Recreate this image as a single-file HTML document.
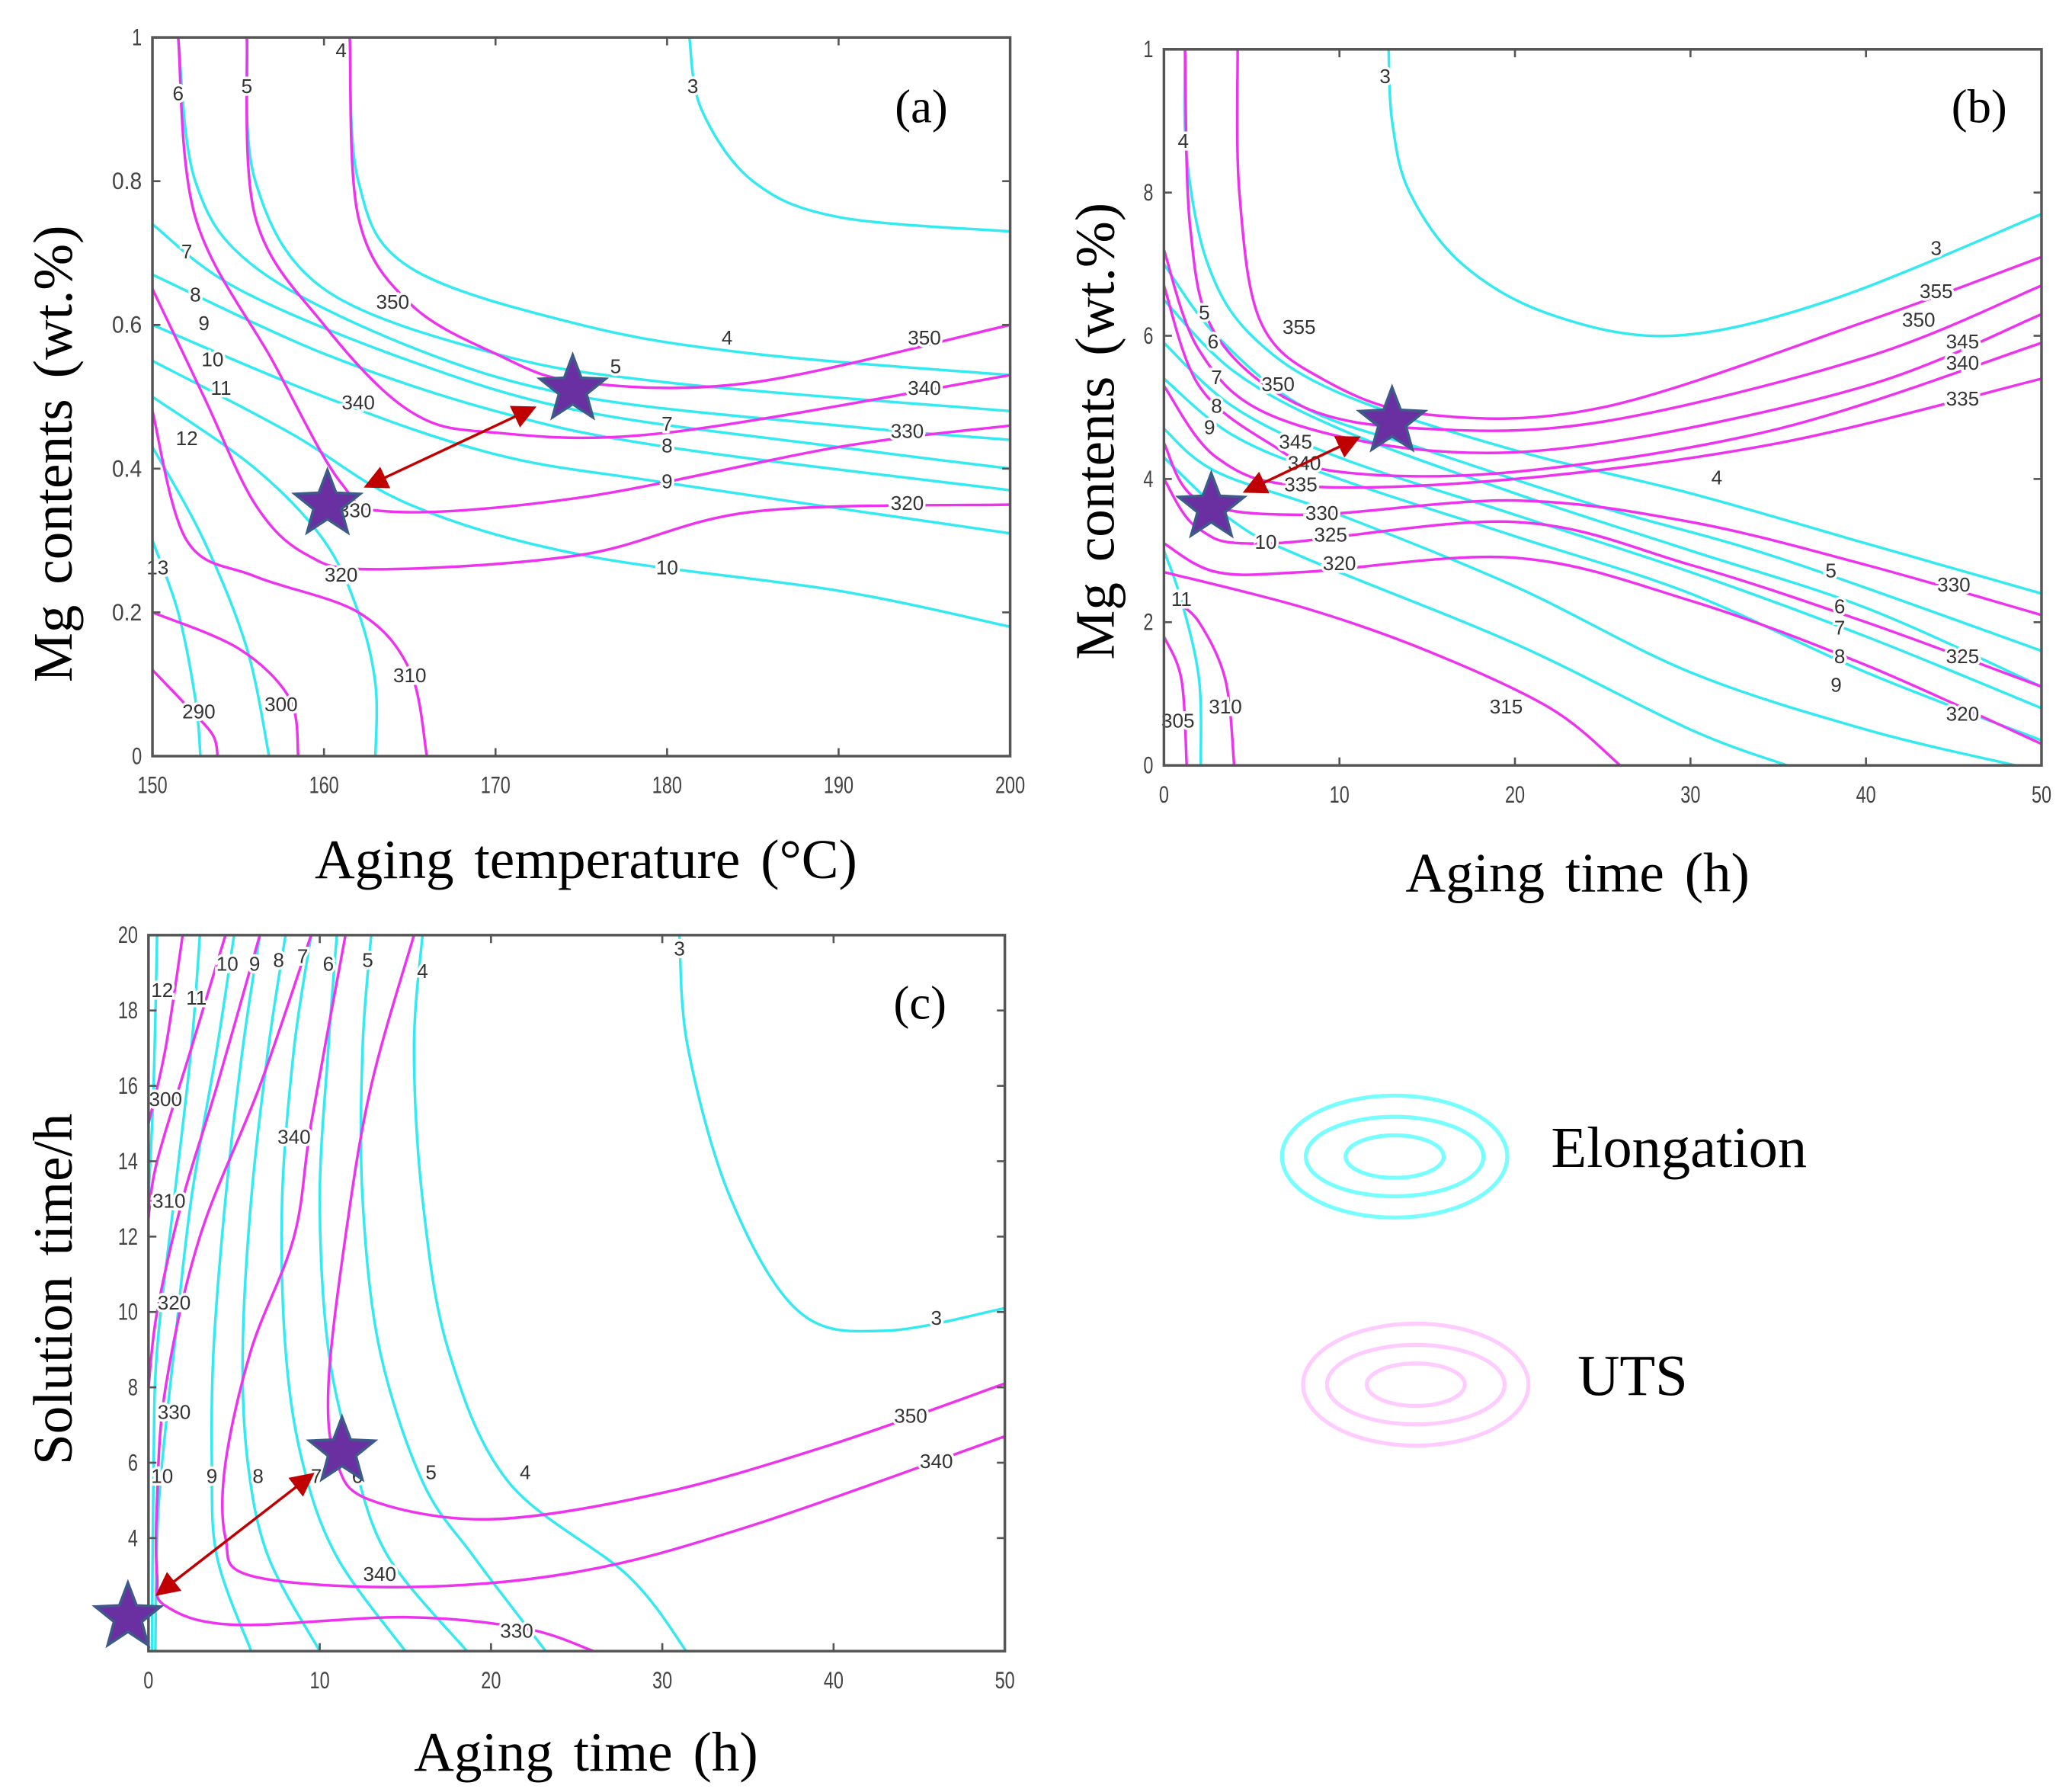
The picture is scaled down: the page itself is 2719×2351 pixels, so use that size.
<!DOCTYPE html>
<html><head><meta charset="utf-8">
<style>
html,body{margin:0;padding:0;background:#fff;}
svg{display:block;}
.tick{font-family:"Liberation Sans",sans-serif;font-size:18px;fill:#444;}
.lab{font-family:"Liberation Serif",serif;font-size:42px;fill:#000;}
.cl{font-family:"Liberation Sans",sans-serif;font-size:15px;fill:#333;stroke:#fff;stroke-width:4px;paint-order:stroke;}
</style></head>
<body>
<svg id="fig" width="2719" height="2351" viewBox="0 0 1563 1351" xmlns="http://www.w3.org/2000/svg">
<defs>
<clipPath id="clipA"><rect x="115" y="28" width="647" height="542"/></clipPath>
<clipPath id="clipB"><rect x="878" y="37" width="662" height="540"/></clipPath>
<clipPath id="clipC"><rect x="112" y="705" width="646" height="540"/></clipPath>
<marker id="ah" viewBox="0 0 10 10" refX="9" refY="5" markerWidth="9" markerHeight="9" orient="auto-start-reverse"><path d="M0,0 L10,5 L0,10 z" fill="#c00000"/></marker>
</defs>
<g id="root"></g>
<g>
<g fill="none" stroke="#7ff" stroke-width="3">
<ellipse cx="1052" cy="872" rx="85" ry="46"/><ellipse cx="1052" cy="872" rx="67" ry="30"/><ellipse cx="1052" cy="872" rx="37" ry="16"/></g>
<text class="lab" x="1170" y="880" style="font-size:44px">Elongation</text>
<g fill="none" stroke="#fcf" stroke-width="3">
<ellipse cx="1068" cy="1044" rx="85" ry="46"/><ellipse cx="1068" cy="1044" rx="67" ry="30"/><ellipse cx="1068" cy="1044" rx="37" ry="16"/></g>
<text class="lab" x="1190" y="1052" style="font-size:44px">UTS</text>
</g>
</svg>
<script>
// ---------- Panel (a) data ----------
const aXTicks=[150,160,170,180,190,200];
const aYTicks=[0,0.2,0.4,0.6,0.8,1];
const aYTickLabels=["0","0.2","0.4","0.6","0.8","1"];
const aElongLevels=["3","4","5","6","7","8","9","10","11","12","13"];
const aElongPaths=[
[[181.3,1],[182,0.9],[185,0.8],[190,0.75],[200,0.73]],
[[161.5,1],[162,0.8],[165,0.68],[175,0.6],[185,0.56],[200,0.53]],
[[155.5,1],[156,0.8],[160,0.65],[170,0.56],[180,0.52],[200,0.48]],
[[151.5,1],[152.5,0.8],[156,0.68],[165,0.57],[175,0.5],[190,0.46],[200,0.44]],
[[150,0.74],[155,0.65],[165,0.55],[175,0.48],[190,0.43],[200,0.4]],
[[150,0.67],[160,0.56],[170,0.48],[180,0.43],[200,0.37]],
[[150,0.6],[160,0.5],[170,0.42],[180,0.38],[200,0.31]],
[[150,0.55],[158,0.45],[165,0.35],[175,0.28],[190,0.23],[200,0.18]],
[[150,0.5],[156,0.4],[160,0.3],[162,0.2],[163,0.1],[163,0]],
[[150,0.43],[153,0.3],[155.5,0.15],[156.8,0]],
[[150,0.3],[151.5,0.2],[152.5,0.08],[152.8,0]]];
const aElongLabelPos=[[181.5,0.93],[161,0.98],[155.5,0.93],[151.5,0.92],[152,0.7],[152.5,0.64],[153,0.6],[153.5,0.55],[154,0.51],[152,0.44],[150.3,0.26]];
const aElongLabelPos2=[null,[183.5,0.58],[177,0.54],null,[180,0.46],[180,0.43],[180,0.38],[180,0.26],null,null,null];
const aUtsLevels=["350","340","330","320","310","300","290"];
const aUtsPaths=[
[[161.5,1],[162,0.75],[165,0.63],[170,0.56],[175,0.52],[185,0.52],[200,0.6]],
[[155.5,1],[156,0.75],[160,0.6],[165,0.48],[170,0.45],[180,0.45],[200,0.53]],
[[151.5,1],[152.5,0.75],[157,0.55],[161,0.38],[164,0.34],[175,0.36],[190,0.43],[200,0.46]],
[[150,0.65],[153,0.5],[156,0.35],[159,0.28],[163,0.26],[175,0.28],[185,0.34],[200,0.35]],
[[150,0.48],[152,0.3],[156,0.25],[162,0.2],[165,0.12],[166,0]],
[[150,0.2],[155,0.15],[158,0.08],[158.5,0]],
[[150,0.12],[152,0.07],[153.5,0.03],[153.8,0]]];
const aUtsLabelPos=[[164,0.63],[162,0.49],[161.8,0.34],[161,0.25],[165,0.11],[157.5,0.07],[152.7,0.06]];
const aUtsLabelPos2=[[195,0.58],[195,0.51],[194,0.45],[194,0.35],null,null,null];
const aStars=[[160.2,0.35],[174.5,0.51]];

// ---------- Panel (b) data ----------
const bXTicks=[0,10,20,30,40,50];
const bYTicks=[0,2,4,6,8,10];
const bYTickLabels=["0","2","4","6","8","1"];
const bElongLevels=["3","4","5","6","7","8","9","10","11"];
const bElongPaths=[
[[12.8,10],[13,9],[14,8],[17,7],[22,6.3],[29,6],[38,6.5],[50,7.7]],
[[1.2,10],[1.3,8.5],[2.5,7],[5,6],[10,5.2],[20,4.4],[30,3.8],[40,3.1],[50,2.4]],
[[0,7],[3,6],[8,5],[15,4.4],[25,3.6],[35,2.9],[50,1.6]],
[[0,6.5],[4,5.5],[10,4.7],[20,3.8],[30,3],[40,2.2],[50,1.1]],
[[0,5.9],[4,5],[10,4.3],[20,3.5],[30,2.7],[40,1.8],[50,0.8]],
[[0,5.4],[4,4.6],[10,4],[20,3.2],[30,2.4],[40,1.3],[50,0.35]],
[[0,4.7],[3,4.1],[10,3.5],[20,2.5],[30,1.3],[40,0.5],[48.5,0]],
[[0,4.3],[4,3.4],[8,2.9],[20,1.7],[30,0.5],[35.5,0]],
[[0,3],[1,2.3],[2,1.2],[2.1,0]]];
const bElongLabelPos=[[12.6,9.6],[1.1,8.7],[2.3,6.3],[2.8,5.9],[3,5.4],[3,5],[2.6,4.7],[5.8,3.1],[1,2.3]];
const bElongLabelPos2=[[44,7.2],[31.5,4],[38,2.7],[38.5,2.2],[38.5,1.9],[38.5,1.5],[38.3,1.1],null,null];
const bUtsLevels=["355","350","345","340","335","330","325","320","315","310","305"];
const bUtsPaths=[
[[4.2,10],[4.3,8],[5.5,6.2],[9,5.4],[15,4.9],[25,5],[40,6.2],[50,7.1]],
[[1.2,10],[1.5,7.5],[3,6],[8,5],[15,4.7],[25,4.8],[40,5.7],[50,6.7]],
[[0,7.2],[2,5.8],[6,4.9],[15,4.4],[25,4.5],[40,5.3],[50,6.3]],
[[0,6.7],[2,5.3],[6,4.5],[10,4.1],[20,4.1],[35,4.7],[50,5.9]],
[[0,5.3],[3,4.3],[8,3.9],[20,4],[35,4.5],[50,5.4]],
[[0,4.5],[2,3.7],[8,3.5],[20,3.7],[30,3.4],[40,2.8],[50,2.1]],
[[0,4],[2,3.3],[6,3.1],[20,3.4],[30,2.8],[40,2],[50,1.1]],
[[0,3.1],[3,2.7],[8,2.7],[20,2.9],[30,2.3],[40,1.4],[50,0.3]],
[[0,2.7],[8,2.2],[15,1.6],[22,0.8],[26,0]],
[[0.6,2.3],[2,2],[3.5,1.2],[4,0]],
[[0,1.8],[1,1.2],[1.3,0]]];
const bUtsLabelPos=[[7.7,6.1],[6.5,5.3],[7.5,4.5],[8,4.2],[7.8,3.9],[9,3.5],[9.5,3.2],[10,2.8],[19.5,0.8],[3.5,0.8],[0.8,0.6]];
const bUtsLabelPos2=[[44,6.6],[43,6.2],[45.5,5.9],[45.5,5.6],[45.5,5.1],[45,2.5],[45.5,1.5],[45.5,0.7],null,null,null];
const bStars=[[2.7,3.6],[13,4.8]];

// ---------- Panel (c) data ----------
const cXTicks=[0,10,20,30,40,50];
const cYTicks=[4,6,8,10,12,14,16,18,20];
const cYTickLabels=["4","6","8","10","12","14","16","18","20"];
const cElongLevels=["12","11","10","9","8","7","6","5","4","3"];
const cElongPaths=[
[[0.5,20],[0.3,16],[0,13]],
[[3,20],[2.5,17],[1.5,13],[0.5,9],[0.3,6],[0.2,1]],
[[5,20],[4,17],[2.5,13],[1.5,9],[0.8,6],[0.5,4],[0.4,1]],
[[6.5,20],[5.5,17],[4.5,13],[3.8,9],[3.7,6],[4,3.5],[6,1]],
[[8,20],[7,17],[6,13],[5.5,9],[5.8,6],[7,3.5],[10,1]],
[[9.5,20],[8.5,17],[7.8,13],[8,9],[9,6],[11,3.5],[15,1]],
[[11,20],[10.5,17],[10,13],[10.5,9],[12,6],[14,3.5],[18.6,1]],
[[13,20],[12.5,17],[12.5,13],[13.5,9],[16,5.5],[19,3.5],[23.2,1]],
[[16,20],[15.5,17],[16,13],[17.5,9],[21,5.5],[28,3],[31.4,1]],
[[31,20],[31.5,17],[34,13],[38,10],[43,9.5],[50,10.1]]];
const cElongLabelPos=[[0.8,18.5],[2.8,18.3],[4.6,19.2],[6.2,19.2],[7.6,19.3],[9,19.4],[10.5,19.2],[12.8,19.3],[16,19],[31,19.6]];
const cElongLabelPos2=[null,null,[0.8,5.6],[3.7,5.6],[6.4,5.6],[9.8,5.6],[12.2,5.6],[16.5,5.7],[22,5.7],[46,9.8]];
const cUtsLevels=["350","340","330","320","310","300"];
const cUtsPaths=[
[[15.5,20],[13,16],[11.5,12],[10.5,8],[11,6],[13,5],[20,4.5],[30,5.2],[40,6.5],[50,8.1]],
[[11.5,20],[9.5,15],[8.5,12],[6,9],[4.5,6],[4.5,4],[6,3],[15,2.7],[25,3.1],[35,4.3],[50,6.7]],
[[9.5,20],[6.5,16],[3,12],[1,8],[0.5,5],[0.5,3],[1,2.2],[5,1.7],[15,1.9],[22,1.6],[26,1]],
[[6.5,20],[4,16],[2,13],[0.5,10],[0,8]],
[[4.5,20],[2.5,17],[0.5,14],[0,12.5]],
[[2,20],[1,17],[0,15]]];
const cUtsLabelPos=[[44.5,7.2],[8.5,14.6],[1.5,7.3],[1.5,10.2],[1.2,12.9],[1,15.6]];
const cUtsLabelPos2=[null,[46,6],[21.5,1.5],null,null,null];
const cUtsLabelPos3=[null,[13.5,3.0],null,null,null,null];
const cStars=[[-1.2,1.9],[11.3,6.3]];

const NS="http://www.w3.org/2000/svg";
const root=document.getElementById('root');
function mk(tag,attrs,parent){const e=document.createElementNS(NS,tag);for(const k in attrs)e.setAttribute(k,attrs[k]);(parent||root).appendChild(e);return e;}
function scale(d0,d1,r0,r1){return v=>r0+(v-d0)/(d1-d0)*(r1-r0);}
function smoothPath(pts){
  let d="M"+pts[0][0].toFixed(1)+","+pts[0][1].toFixed(1);
  for(let i=0;i<pts.length-1;i++){
    const p0=pts[i-1]||pts[i],p1=pts[i],p2=pts[i+1],p3=pts[i+2]||p2;
    const c1=[p1[0]+(p2[0]-p0[0])/6,p1[1]+(p2[1]-p0[1])/6];
    const c2=[p2[0]-(p3[0]-p1[0])/6,p2[1]-(p3[1]-p1[1])/6];
    d+="C"+c1[0].toFixed(1)+","+c1[1].toFixed(1)+" "+c2[0].toFixed(1)+","+c2[1].toFixed(1)+" "+p2[0].toFixed(1)+","+p2[1].toFixed(1);
  }
  return d;
}
function starPath(cx,cy,R,r){let d="";for(let i=0;i<10;i++){const a=-Math.PI/2+i*Math.PI/5;const rr=i%2?r:R;d+=(i?"L":"M")+(cx+rr*Math.cos(a)).toFixed(1)+","+(cy+rr*Math.sin(a)).toFixed(1);}return d+"Z";}

function panel(cfg){
  const g=mk('g',{});
  
  
  const sx=scale(cfg.xd[0],cfg.xd[1],cfg.px[0],cfg.px[1]);
  const sy=scale(cfg.yd[0],cfg.yd[1],cfg.py[0],cfg.py[1]);
  const plot=mk('g',{'clip-path':'url(#'+cfg.clip+')'},g);
  
  
  function drawSet(paths,levels,color,pos,pos2,pos3,kind){
    paths.forEach((p,i)=>{
      const pts=p.map(q=>[sx(q[0]),sy(q[1])]);
      const path=mk('path',{d:smoothPath(pts),fill:'none',stroke:color,'stroke-width':2},plot);
      
      
    });
    [pos,pos2,pos3].forEach(arr=>{ if(!arr) return;
      arr.forEach((lp,i)=>{ if(!lp) return;
        const t=mk('text',{class:'cl',x:sx(lp[0]),y:sy(lp[1]),'text-anchor':'middle','dominant-baseline':'middle'},g);
        t.textContent=levels[i];
        
        
      });
    });
  }
  drawSet(cfg.elongPaths,cfg.elongLevels,'#33eaf0',cfg.elongPos,cfg.elongPos2,null,'elongation');
  drawSet(cfg.utsPaths,cfg.utsLevels,'#ee33ee',cfg.utsPos,cfg.utsPos2,cfg.utsPos3,'uts');
  const fr=mk('rect',{x:cfg.px[0],y:cfg.py[1],width:cfg.px[1]-cfg.px[0],height:cfg.py[0]-cfg.py[1],fill:'none',stroke:'#555','stroke-width':2},g);
  
  
  cfg.xt.forEach(v=>{
    const x=sx(v);
    mk('line',{x1:x,x2:x,y1:cfg.py[0],y2:cfg.py[0]-6,stroke:'#555','stroke-width':1.5},g);
    mk('line',{x1:x,x2:x,y1:cfg.py[1],y2:cfg.py[1]+6,stroke:'#555','stroke-width':1.5},g);
    const s=String(v);
    const t=mk('text',{class:'tick',x:x,y:cfg.py[0]+28,'text-anchor':'middle',textLength:s.length*7.5,lengthAdjust:'spacingAndGlyphs'},g);
    t.textContent=s;
    
    
  });
  cfg.yt.forEach((v,i)=>{
    const y=sy(v);
    mk('line',{x1:cfg.px[0],x2:cfg.px[0]+6,y1:y,y2:y,stroke:'#555','stroke-width':1.5},g);
    mk('line',{x1:cfg.px[1],x2:cfg.px[1]-6,y1:y,y2:y,stroke:'#555','stroke-width':1.5},g);
    const s=cfg.ytl[i];
    const t=mk('text',{class:'tick',x:cfg.px[0]-8,y:y+6,'text-anchor':'end',textLength:s.length*7.5,lengthAdjust:'spacingAndGlyphs'},g);
    t.textContent=s;
    
    
  });
  const s0=cfg.stars[0],s1=cfg.stars[1];
  const ax0=sx(s0[0]),ay0=sy(s0[1]),ax1=sx(s1[0]),ay1=sy(s1[1]);
  const dx=ax1-ax0,dy=ay1-ay0,L=Math.hypot(dx,dy),ux=dx/L,uy=dy/L;
  const ar=mk('line',{x1:ax0+ux*cfg.arrowGap,y1:ay0+uy*cfg.arrowGap,x2:ax1-ux*cfg.arrowGap,y2:ay1-uy*cfg.arrowGap,stroke:'#c00000','stroke-width':2,'marker-start':'url(#ah)','marker-end':'url(#ah)'},g);
  
  
  cfg.stars.forEach((s,i)=>{
    const st=mk('path',{d:starPath(sx(s[0]),sy(s[1]),26,11),fill:'#6a2fa0',stroke:'#3d5a8a','stroke-width':2},g);
    
    
  });
  const pl=mk('text',{class:'lab',x:cfg.tag[0],y:cfg.tag[1],'text-anchor':'middle'},g);
  pl.setAttribute('style','font-size:36px');
  pl.textContent=cfg.tagText;
  
  
  const xl=mk('text',{class:'lab',x:cfg.xlab[0],y:cfg.xlab[1],'text-anchor':'middle','word-spacing':'5'},g);
  xl.textContent=cfg.xlabText;
  
  
  const yl=mk('text',{class:'lab',x:0,y:0,'text-anchor':'middle','word-spacing':'5',transform:'translate('+cfg.ylab[0]+','+cfg.ylab[1]+') rotate(-90)'},g);
  yl.textContent=cfg.ylabText;
  
  
}

panel({name:'panel-a',clip:'clipA',xd:[150,200],yd:[0,1],px:[115,762],py:[570,28],xt:aXTicks,yt:aYTicks,ytl:aYTickLabels,
  elongPaths:aElongPaths,elongLevels:aElongLevels,elongPos:aElongLabelPos,elongPos2:aElongLabelPos2,
  utsPaths:aUtsPaths,utsLevels:aUtsLevels,utsPos:aUtsLabelPos,utsPos2:aUtsLabelPos2,stars:aStars,arrowGap:32,
  tag:[695,92],tagText:'(a)',xlab:[442,662],xlabText:'Aging temperature (°C)',ylab:[54,342],ylabText:'Mg contents (wt.%)'});
panel({name:'panel-b',clip:'clipB',xd:[0,50],yd:[0,10],px:[878,1540],py:[577,37],xt:bXTicks,yt:bYTicks,ytl:bYTickLabels,
  elongPaths:bElongPaths,elongLevels:bElongLevels,elongPos:bElongLabelPos,elongPos2:bElongLabelPos2,
  utsPaths:bUtsPaths,utsLevels:bUtsLevels,utsPos:bUtsLabelPos,utsPos2:bUtsLabelPos2,stars:bStars,arrowGap:28,
  tag:[1493,92],tagText:'(b)',xlab:[1190,672],xlabText:'Aging time (h)',ylab:[840,325],ylabText:'Mg contents (wt.%)'});
panel({name:'panel-c',clip:'clipC',xd:[0,50],yd:[1,20],px:[112,758],py:[1245,705],xt:cXTicks,yt:cYTicks,ytl:cYTickLabels,
  elongPaths:cElongPaths,elongLevels:cElongLevels,elongPos:cElongLabelPos,elongPos2:cElongLabelPos2,
  utsPaths:cUtsPaths,utsLevels:cUtsLevels,utsPos:cUtsLabelPos,utsPos2:cUtsLabelPos2,utsPos3:cUtsLabelPos3,stars:cStars,arrowGap:28,
  tag:[694,768],tagText:'(c)',xlab:[442,1335],xlabText:'Aging time (h)',ylab:[54,972],ylabText:'Solution time/h'});
</script>
</body></html>
